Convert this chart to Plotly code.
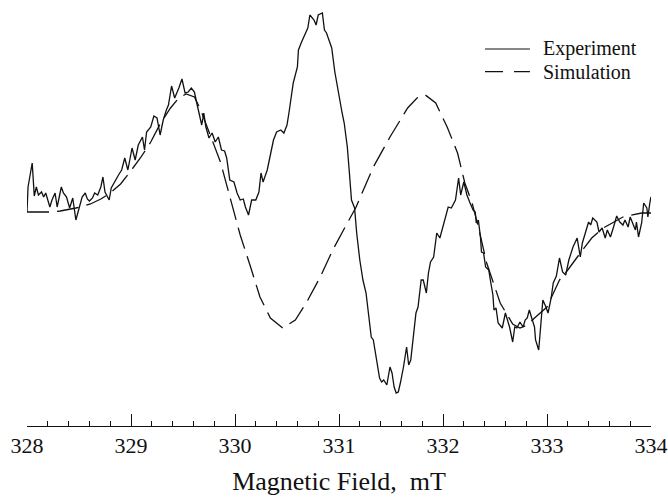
import plotly.graph_objects as go

# EPR derivative spectrum: measured trace (field in mT, signal in arbitrary units)
exp_field = [
    328.00, 328.01, 328.05, 328.07, 328.09, 328.11, 328.14, 328.16, 328.18, 328.20,
    328.22, 328.24, 328.27, 328.29, 328.33, 328.35, 328.38, 328.41, 328.44, 328.47,
    328.50, 328.53, 328.56, 328.58, 328.60, 328.63, 328.65, 328.68, 328.71, 328.73,
    328.75, 328.79, 328.81, 328.84, 328.88, 328.91, 328.94, 328.97, 329.01, 329.04,
    329.07, 329.11, 329.13, 329.15, 329.19, 329.22, 329.25, 329.28, 329.31, 329.34,
    329.36, 329.39, 329.42, 329.46, 329.49, 329.52, 329.55, 329.58, 329.61, 329.63,
    329.66, 329.68, 329.70, 329.72, 329.75, 329.78, 329.81, 329.84, 329.87, 329.90,
    329.92, 329.95, 329.99, 330.02, 330.05, 330.08, 330.10, 330.13, 330.16, 330.20,
    330.23, 330.25, 330.27, 330.31, 330.34, 330.37, 330.40, 330.44, 330.47, 330.50,
    330.52, 330.55, 330.56, 330.60, 330.61, 330.64, 330.66, 330.68, 330.70, 330.72,
    330.74, 330.76, 330.78, 330.80, 330.84, 330.86, 330.88, 330.90, 330.93, 330.96,
    331.00, 331.03, 331.05, 331.08, 331.10, 331.12, 331.15, 331.17, 331.20, 331.23,
    331.26, 331.28, 331.31, 331.33, 331.35, 331.37, 331.39, 331.41, 331.43, 331.46,
    331.49, 331.51, 331.53, 331.55, 331.57, 331.59, 331.62, 331.65, 331.67, 331.69,
    331.72, 331.74, 331.76, 331.79, 331.81, 331.84, 331.86, 331.88, 331.91, 331.94,
    331.97, 331.99, 332.02, 332.05, 332.08, 332.12, 332.15, 332.17, 332.20, 332.23,
    332.26, 332.29, 332.31, 332.32, 332.34, 332.36, 332.37, 332.39, 332.41, 332.44,
    332.46, 332.48, 332.49, 332.51, 332.53, 332.55, 332.57, 332.60, 332.61, 332.64,
    332.67, 332.69, 332.71, 332.74, 332.77, 332.79, 332.81, 332.83, 332.85, 332.88,
    332.89, 332.92, 332.93, 332.95, 332.96, 332.99, 333.01, 333.04, 333.06, 333.09,
    333.12, 333.15, 333.18, 333.21, 333.25, 333.29, 333.32, 333.34, 333.37, 333.40,
    333.42, 333.44, 333.48, 333.50, 333.53, 333.56, 333.58, 333.61, 333.64, 333.67,
    333.70, 333.73, 333.75, 333.78, 333.80, 333.82, 333.85, 333.86, 333.88, 333.91,
    333.93, 333.96, 333.97, 333.99, 334.00,
]
exp_signal = [
    0.00, 0.25, 0.49, 0.16, 0.25, 0.17, 0.20, 0.15, 0.19, 0.12,
    0.05, 0.12, 0.19, 0.05, 0.25, 0.19, 0.15, 0.04, 0.14, -0.08,
    0.05, 0.15, 0.19, 0.13, 0.11, 0.14, 0.19, 0.17, 0.25, 0.35,
    0.20, 0.12, 0.24, 0.30, 0.37, 0.42, 0.54, 0.42, 0.64, 0.52,
    0.67, 0.75, 0.62, 0.80, 0.85, 0.96, 0.94, 0.77, 0.92, 1.02,
    1.07, 1.26, 1.14, 1.24, 1.33, 1.19, 1.20, 1.24, 1.20, 1.10,
    0.97, 0.87, 0.99, 0.85, 0.74, 0.79, 0.70, 0.75, 0.62, 0.61,
    0.54, 0.32, 0.30, 0.19, 0.12, 0.13, 0.05, -0.03, 0.12, 0.12,
    0.20, 0.39, 0.30, 0.42, 0.57, 0.72, 0.80, 0.82, 0.79, 0.87,
    1.00, 1.24, 1.29, 1.45, 1.62, 1.70, 1.75, 1.79, 1.84, 1.97,
    1.94, 1.92, 1.87, 1.97, 1.99, 1.82, 1.79, 1.72, 1.64, 1.40,
    1.15, 0.99, 0.89, 0.65, 0.39, 0.12, 0.04, -0.21, -0.48, -0.68,
    -0.81, -1.01, -1.25, -1.28, -1.41, -1.51, -1.66, -1.70, -1.68, -1.73,
    -1.55, -1.61, -1.75, -1.81, -1.80, -1.71, -1.55, -1.35, -1.53, -1.48,
    -1.21, -1.01, -0.95, -0.68, -0.68, -0.81, -0.61, -0.50, -0.45, -0.21,
    -0.26, -0.18, -0.08, 0.05, 0.04, 0.12, 0.34, 0.17, 0.30, 0.17,
    0.09, 0.02, 0.00, -0.11, -0.08, -0.25, -0.40, -0.41, -0.55, -0.58,
    -0.71, -0.83, -0.98, -0.96, -1.11, -1.13, -1.16, -1.01, -1.05, -1.15,
    -1.30, -1.15, -1.16, -1.10, -1.15, -1.08, -1.06, -0.98, -1.05, -1.15,
    -1.28, -1.38, -1.26, -0.98, -0.88, -0.95, -1.01, -0.86, -0.71, -0.64,
    -0.46, -0.60, -0.63, -0.48, -0.35, -0.26, -0.45, -0.31, -0.20, -0.10,
    -0.13, -0.06, -0.10, -0.20, -0.16, -0.26, -0.18, -0.25, -0.15, -0.04,
    -0.10, -0.13, -0.08, -0.15, -0.05, -0.10, -0.18, -0.10, -0.25, -0.11,
    0.09, 0.04, -0.05, 0.10, 0.15,
]

# Simulated spectrum
sim_field = [
    328.00, 328.22, 328.32, 328.47, 328.61, 328.71, 328.80, 328.90, 328.99, 329.09,
    329.19, 329.28, 329.38, 329.46, 329.53, 329.61, 329.67, 329.72, 329.78, 329.86,
    329.95, 330.05, 330.15, 330.24, 330.34, 330.46, 330.58, 330.69, 330.82, 330.94,
    331.08, 331.16, 331.33, 331.49, 331.66, 331.75, 331.83, 331.93, 332.04, 332.14,
    332.21, 332.28, 332.34, 332.42, 332.55, 332.60, 332.67, 332.74, 332.81, 332.88,
    333.00, 333.12, 333.20, 333.32, 333.43, 333.54, 333.64, 333.73, 333.91, 334.00,
]
sim_signal = [
    0.00, 0.00, 0.01, 0.04, 0.08, 0.13, 0.19, 0.28, 0.40, 0.54,
    0.70, 0.88, 1.04, 1.14, 1.18, 1.15, 1.02, 0.89, 0.72, 0.50,
    0.15, -0.23, -0.55, -0.85, -1.06, -1.16, -1.08, -0.90, -0.65, -0.38,
    -0.11, 0.04, 0.45, 0.75, 1.04, 1.14, 1.17, 1.09, 0.85, 0.59,
    0.29, 0.09, -0.15, -0.51, -0.91, -1.00, -1.12, -1.16, -1.13, -1.06,
    -0.95, -0.68, -0.58, -0.41, -0.26, -0.16, -0.10, -0.05, -0.01, -0.01,
]

tick_vals = [328, 329, 330, 331, 332, 333, 334]
series_names = ["Experiment", "Simulation"]
axis_title = "Magnetic Field,\u00a0 mT"

SERIF = "Liberation Serif, Times New Roman, serif"
INK = "#111111"
SIM_DASH = "22px,8px"

fig = go.Figure()
fig.add_trace(go.Scatter(
    x=exp_field, y=exp_signal, mode="lines", name=series_names[0],
    line=dict(color=INK, width=1.3), showlegend=False,
))
fig.add_trace(go.Scatter(
    x=sim_field, y=sim_signal, mode="lines", name=series_names[1],
    line=dict(color=INK, width=1.3, dash=SIM_DASH), showlegend=False,
))

# Hand-drawn key in the upper right corner
key_rows = [(0.885, "solid"), (0.832, "18px,11px")]
for (ky, dash), label in zip(key_rows, series_names):
    fig.add_shape(type="line", xref="paper", yref="paper",
                  x0=0.734, x1=0.806, y0=ky, y1=ky,
                  line=dict(color=INK, width=1.2, dash=dash))
    fig.add_annotation(xref="paper", yref="paper", x=0.824, y=ky,
                       xanchor="left", yanchor="middle", showarrow=False,
                       text=label, font=dict(family=SERIF, size=20, color=INK))

fig.update_layout(
    width=668, height=497, autosize=False,
    margin=dict(l=27, r=17, t=0, b=71),
    paper_bgcolor="white", plot_bgcolor="white",
    xaxis=dict(
        range=[328, 334], tickvals=tick_vals,
        ticks="inside", ticklen=12, tickwidth=1, tickcolor=INK,
        showline=True, linecolor=INK, linewidth=1,
        showgrid=False, zeroline=False,
        minor=dict(dtick=0.2, ticks="inside", ticklen=5, tickwidth=1,
                   tickcolor=INK, showgrid=False),
        tickfont=dict(family=SERIF, size=22, color=INK),
        title=dict(text=axis_title, standoff=14,
                   font=dict(family=SERIF, size=26, color=INK)),
    ),
    yaxis=dict(visible=False, range=[-2.14, 2.12]),
)

fig.write_html("out.html")
